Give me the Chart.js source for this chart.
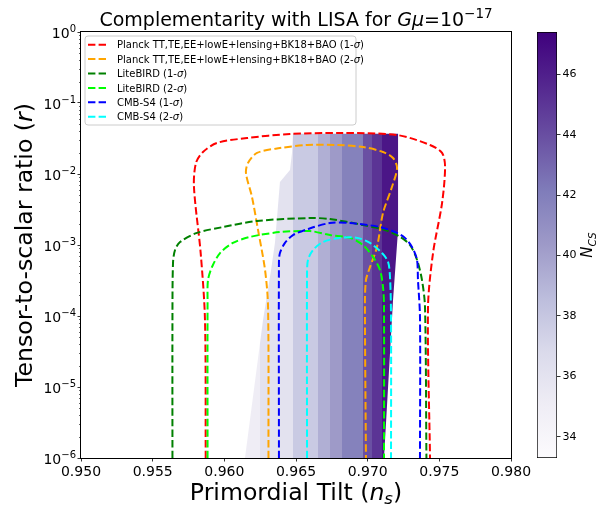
<!DOCTYPE html>
<html>
<head>
<meta charset="utf-8">
<script src="https://cdn.jsdelivr.net/npm/chart.js@4.4.1/dist/chart.umd.min.js"></script>
<style>
  body { margin: 0; background: #fff; }
  #wrap { position: relative; width: 598px; height: 506px; }
  #main { position: absolute; left: 0; top: 0; }
  #cbar { position: absolute; left: 520px; top: 0; }
</style>
</head>
<body>
<div id="wrap">
  <canvas id="main" width="598" height="506"></canvas>
  <canvas id="cbar" width="78" height="506"></canvas>
</div>
<script>
// contours (n_s, r)
const planck1Ns = [0.95870, 0.95865, 0.95835, 0.95788, 0.95802, 0.95851, 0.95949, 0.96158, 0.96458, 0.96807, 0.97205, 0.97435, 0.97519, 0.97540, 0.97519, 0.97456, 0.97421, 0.97435];
const planck1R  = [1e-6, 8.8e-5, 7.7e-4, 6.6e-3, 1.43e-2, 2.04e-2, 2.74e-2, 3.21e-2, 3.66e-2, 3.78e-2, 3.54e-2, 2.56e-2, 1.98e-2, 1.26e-2, 3.9e-3, 7.7e-4, 1.34e-4, 1e-6];

const planck2Ns = [0.96308, 0.96305, 0.96284, 0.96235, 0.96193, 0.96151, 0.96165, 0.96228, 0.96388, 0.96577, 0.96786, 0.96967, 0.97107, 0.97177, 0.97205, 0.97170, 0.97107, 0.97065, 0.97009, 0.96988, 0.96981, 0.96988];
const planck2R  = [1e-6, 1.34e-4, 4.45e-4, 1.63e-3, 4.74e-3, 1.03e-2, 1.43e-2, 1.98e-2, 2.32e-2, 2.56e-2, 2.56e-2, 2.40e-2, 2.04e-2, 1.68e-2, 1.22e-2, 6.6e-3, 2.82e-3, 9.4e-4, 4.45e-4, 3.21e-4, 1.52e-4, 1e-6];

const lite1Ns = [0.95638, 0.95638, 0.95642, 0.95656, 0.95691, 0.95809, 0.95991, 0.96228, 0.96598, 0.96737, 0.96967, 0.97121, 0.97226, 0.97295, 0.97344, 0.97379, 0.97400, 0.97410];
const lite1R  = [1e-6, 8.8e-5, 5.6e-4, 8.5e-4, 1.10e-3, 1.48e-3, 1.79e-3, 2.18e-3, 2.40e-3, 2.32e-3, 1.91e-3, 1.63e-3, 1.30e-3, 1.0e-3, 6.2e-4, 3.2e-4, 1.34e-4, 1e-6];

const lite2Ns = [0.95883, 0.95883, 0.95886, 0.95914, 0.95970, 0.96060, 0.96179, 0.96388, 0.96598, 0.96737, 0.96877, 0.96967, 0.97037, 0.97086, 0.97107, 0.97114, 0.97114];
const lite2R  = [1e-6, 1.68e-4, 3.2e-4, 4.9e-4, 7.7e-4, 1.07e-3, 1.30e-3, 1.52e-3, 1.57e-3, 1.38e-3, 1.26e-3, 1.0e-3, 6.8e-4, 4.45e-4, 2.56e-4, 1.34e-4, 1e-6];

const s4a1Ns = [0.96381, 0.96381, 0.96388, 0.96423, 0.96479, 0.96584, 0.96737, 0.96877, 0.97086, 0.97205, 0.97260, 0.97309, 0.97344, 0.97351, 0.97365, 0.97365];
const s4a1R  = [1e-6, 5.6e-4, 7.7e-4, 1.07e-3, 1.38e-3, 1.68e-3, 2.04e-3, 2.04e-3, 1.79e-3, 1.48e-3, 1.26e-3, 9.4e-4, 6.2e-4, 3.2e-4, 9.7e-5, 1e-6];

const s4a2Ns = [0.96577, 0.96577, 0.96584, 0.96619, 0.96688, 0.96807, 0.96926, 0.97016, 0.97100, 0.97142, 0.97156, 0.97163, 0.97163];
const s4a2R  = [1e-6, 4.0e-4, 6.2e-4, 8.5e-4, 1.10e-3, 1.26e-3, 1.26e-3, 1.07e-3, 7.7e-4, 5.8e-4, 3.5e-4, 9.7e-5, 1e-6];

// LISA region and its N_CS bands
const shadeNs = [0.96144, 0.96270, 0.96326, 0.96353, 0.96388, 0.96458, 0.96472, 0.96479, 0.97212, 0.97212, 0.97177, 0.97114];
const shadeR  = [1e-6, 8.8e-5, 4.45e-4, 1.07e-3, 7.7e-3, 1.14e-2, 1.98e-2, 3.7e-2, 3.7e-2, 1.63e-3, 1.68e-4, 1e-6];
const bandEdges = [0.9610, 0.9625, 0.96479, 0.96653, 0.96737, 0.96821, 0.96967, 0.97030, 0.97100, 0.9725];
const bandNcs   = [35.1, 36.1, 37.8, 39.3, 40.35, 41.8, 43.9, 45.1, 46.4];

const legendLabels = [
  'Planck TT,TE,EE+lowE+lensing+BK18+BAO (1-σ)',
  'Planck TT,TE,EE+lowE+lensing+BK18+BAO (2-σ)',
  'LiteBIRD (1-σ)',
  'LiteBIRD (2-σ)',
  'CMB-S4 (1-σ)',
  'CMB-S4 (2-σ)'
];
const lineColors = ['#ff0000', '#ffa500', '#008000', '#00ff00', '#0000ff', '#00ffff'];

const xTicks = [0.950, 0.955, 0.960, 0.965, 0.970, 0.975, 0.980];
const yExps = [0, -1, -2, -3, -4, -5, -6];
const ncsMin = 33.3, ncsMax = 47.4;
const ncsTicks = [34, 36, 38, 40, 42, 44, 46];

const FONT = "'DejaVu Sans'";
Chart.defaults.font.family = FONT + ", sans-serif";
Chart.defaults.color = '#000';
const fnt = (size, italic) => (italic ? 'italic ' : '') + size + 'px ' + FONT;

// matplotlib "Purples"
const cmapStops = ['#fcfbfd', '#efedf5', '#dadaeb', '#bcbddc', '#9e9ac8', '#807dba', '#6a51a3', '#54278f', '#3f007d'];
function hex2rgb(h) { return [1, 3, 5].map(i => parseInt(h.substr(i, 2), 16)); }
function purples(t) {
  t = Math.max(0, Math.min(1, t));
  const p = t * (cmapStops.length - 1);
  const i = Math.min(Math.floor(p), cmapStops.length - 2);
  const f = p - i;
  const a = hex2rgb(cmapStops[i]), b = hex2rgb(cmapStops[i + 1]);
  return 'rgb(' + a.map((v, k) => Math.round(v + (b[k] - v) * f)).join(',') + ')';
}
const ncsColor = n => purples((n - ncsMin) / (ncsMax - ncsMin));
const clamp01 = v => Math.max(0, Math.min(1, v));

function shadeFill(context) {
  const chart = context.chart, area = chart.chartArea;
  if (!area) return ncsColor(bandNcs[0]);
  const xs = chart.scales.x, w = area.right - area.left;
  const g = chart.ctx.createLinearGradient(area.left, 0, area.right, 0);
  for (let i = 0; i < bandNcs.length; i++) {
    g.addColorStop(clamp01((xs.getPixelForValue(bandEdges[i]) - area.left) / w), ncsColor(bandNcs[i]));
    g.addColorStop(clamp01((xs.getPixelForValue(bandEdges[i + 1]) - area.left) / w), ncsColor(bandNcs[i]));
  }
  return g;
}

function drawRuns(ctx, runs, x, y, align) {
  let w = 0;
  runs.forEach(r => { ctx.font = r.font; r.w = ctx.measureText(r.t).width; w += r.w; });
  let cx = align === 'center' ? x - w / 2 : align === 'right' ? x - w : x;
  ctx.textAlign = 'left';
  ctx.textBaseline = 'alphabetic';
  runs.forEach(r => { ctx.font = r.font; ctx.fillText(r.t, cx, y + (r.dy || 0)); cx += r.w; });
}

function sigmaRuns(label, size) {
  const parts = label.split('σ');
  const runs = [];
  parts.forEach((p, i) => {
    if (p) runs.push({ t: p, font: fnt(size) });
    if (i < parts.length - 1) runs.push({ t: 'σ', font: fnt(size, true) });
  });
  return runs;
}

const pts = (xs, ys) => xs.map((x, i) => ({ x: x, y: ys[i] }));
const lineSets = [[planck1Ns, planck1R], [planck2Ns, planck2R], [lite1Ns, lite1R], [lite2Ns, lite2R], [s4a1Ns, s4a1R], [s4a2Ns, s4a2R]];
const DASH = [7.4, 3.2];

const datasets = lineSets.map((s, i) => ({
  label: legendLabels[i],
  data: pts(s[0], s[1]),
  borderColor: lineColors[i],
  borderWidth: 2,
  borderDash: DASH,
  pointRadius: 0,
  tension: 0.3,
  fill: false,
  order: 6 - i
}));
datasets.push({
  label: 'LISA',
  data: pts(shadeNs, shadeR),
  borderColor: 'rgba(0,0,0,0)',
  borderWidth: 0,
  backgroundColor: shadeFill,
  fill: 'shape',
  pointRadius: 0,
  tension: 0,
  order: 10
});

const decor = {
  id: 'decor',
  afterDraw(chart) {
    const ctx = chart.ctx, a = chart.chartArea, ys = chart.scales.y;
    ctx.save();
    ctx.fillStyle = '#000';
    ctx.strokeStyle = '#000';

    // frame
    ctx.lineWidth = 1;
    ctx.strokeRect(a.left - 0.5, a.top - 0.5, a.right - a.left + 1, a.bottom - a.top + 1);

    // minor ticks on log axis
    ctx.lineWidth = 0.6;
    for (let e = -6; e < 0; e++) {
      for (let k = 2; k <= 9; k++) {
        const y = Math.round(ys.getPixelForValue(k * Math.pow(10, e))) + 0.5;
        ctx.beginPath(); ctx.moveTo(a.left - 2, y); ctx.lineTo(a.left, y); ctx.stroke();
      }
    }

    // y tick labels 10^n
    yExps.forEach(e => {
      const y = ys.getPixelForValue(Math.pow(10, e));
      drawRuns(ctx, [
        { t: '10', font: fnt(14) },
        { t: (e < 0 ? '\u2212' : '') + Math.abs(e), font: fnt(10), dy: -6 }
      ], 76, y + 6, 'right');
    });

    // title
    drawRuns(ctx, [
      { t: 'Complementarity with LISA for ', font: fnt(19) },
      { t: 'Gμ', font: fnt(19, true) },
      { t: '=10', font: fnt(19) },
      { t: '\u221217', font: fnt(13.5), dy: -8 }
    ], (a.left + a.right) / 2, 26, 'center');

    // x label
    drawRuns(ctx, [
      { t: 'Primordial Tilt (', font: fnt(23.6) },
      { t: 'n', font: fnt(23.6, true) },
      { t: 's', font: fnt(16.5, true), dy: 4 },
      { t: ')', font: fnt(23.6) }
    ], (a.left + a.right) / 2, 500, 'center');

    // y label
    ctx.save();
    ctx.translate(32, (a.top + a.bottom) / 2);
    ctx.rotate(-Math.PI / 2);
    drawRuns(ctx, [
      { t: 'Tensor-to-scalar ratio (', font: fnt(23.6) },
      { t: 'r', font: fnt(23.6, true) },
      { t: ')', font: fnt(23.6) }
    ], 0, 0, 'center');
    ctx.restore();

    // legend
    const bx = 85, by = 36, bw = 271, bh = 89, rad = 3;
    ctx.beginPath();
    ctx.moveTo(bx + rad, by);
    ctx.arcTo(bx + bw, by, bx + bw, by + bh, rad);
    ctx.arcTo(bx + bw, by + bh, bx, by + bh, rad);
    ctx.arcTo(bx, by + bh, bx, by, rad);
    ctx.arcTo(bx, by, bx + bw, by, rad);
    ctx.closePath();
    ctx.fillStyle = 'rgba(255,255,255,0.8)';
    ctx.fill();
    ctx.strokeStyle = '#cccccc';
    ctx.lineWidth = 1;
    ctx.stroke();

    chart.data.datasets.slice(0, legendLabels.length).forEach((ds, i) => {
      const ry = 44.7 + i * 14.4;
      ctx.strokeStyle = ds.borderColor;
      ctx.lineWidth = 2;
      ctx.setLineDash(DASH);
      ctx.beginPath(); ctx.moveTo(88, ry); ctx.lineTo(106, ry); ctx.stroke();
      ctx.setLineDash([]);
      ctx.fillStyle = '#000';
      drawRuns(ctx, sigmaRuns(ds.label, 10), 117, ry + 3.6, 'left');
    });
    ctx.restore();
  }
};

new Chart(document.getElementById('main'), {
  type: 'line',
  data: { datasets: datasets },
  options: {
    responsive: false,
    animation: false,
    devicePixelRatio: 1,
    layout: { padding: { left: 0, top: 32, right: 87, bottom: 0 } },
    plugins: { legend: { display: false }, tooltip: { enabled: false } },
    scales: {
      x: {
        type: 'linear', min: 0.95, max: 0.98,
        afterBuildTicks: s => { s.ticks = xTicks.map(v => ({ value: v })); },
        afterFit: s => { s.height = 48; },
        ticks: { font: { size: 14 }, padding: 2, maxRotation: 0, autoSkip: false, callback: v => v.toFixed(3) },
        grid: { drawOnChartArea: false, tickLength: 3.5, tickWidth: 0.8, tickColor: '#000' },
        border: { display: false }
      },
      y: {
        type: 'logarithmic', min: 1e-6, max: 1,
        afterBuildTicks: s => { s.ticks = yExps.map(e => ({ value: Math.pow(10, e) })); },
        afterFit: s => { s.width = 81; },
        ticks: { display: false },
        grid: { drawOnChartArea: false, tickLength: 3.5, tickWidth: 0.8, tickColor: '#000' },
        border: { display: false }
      }
    }
  },
  plugins: [decor]
});

// colorbar
function cbarFill(context) {
  const chart = context.chart, area = chart.chartArea;
  if (!area) return purples(0.5);
  const g = chart.ctx.createLinearGradient(0, area.bottom, 0, area.top);
  cmapStops.forEach((c, i) => g.addColorStop(i / (cmapStops.length - 1), c));
  return g;
}

const cbarLabel = {
  id: 'cbarLabel',
  afterDraw(chart) {
    const ctx = chart.ctx, a = chart.chartArea;
    ctx.save();
    ctx.fillStyle = '#000';
    ctx.translate(72, (a.top + a.bottom) / 2);
    ctx.rotate(-Math.PI / 2);
    drawRuns(ctx, [
      { t: 'N', font: fnt(15, true) },
      { t: 'CS', font: fnt(10.5, true), dy: 3.5 }
    ], 0, 0, 'center');
    ctx.restore();
  }
};

new Chart(document.getElementById('cbar'), {
  type: 'bar',
  data: {
    labels: [''],
    datasets: [{
      data: [[ncsMin, ncsMax]],
      backgroundColor: cbarFill,
      borderColor: '#000',
      borderWidth: 1,
      borderSkipped: false,
      barPercentage: 1,
      categoryPercentage: 1
    }]
  },
  options: {
    responsive: false,
    animation: false,
    devicePixelRatio: 1,
    layout: { padding: { left: 17, top: 32, right: 0, bottom: 48 } },
    plugins: { legend: { display: false }, tooltip: { enabled: false } },
    scales: {
      x: { display: false },
      y: {
        position: 'right', min: ncsMin, max: ncsMax,
        afterBuildTicks: s => { s.ticks = ncsTicks.map(v => ({ value: v })); },
        afterFit: s => { s.width = 41; },
        ticks: { font: { size: 11 }, padding: 2 },
        grid: { drawOnChartArea: false, tickLength: 3.5, tickWidth: 0.8, tickColor: '#000' },
        border: { display: false }
      }
    }
  },
  plugins: [cbarLabel]
});
</script>
</body>
</html>
